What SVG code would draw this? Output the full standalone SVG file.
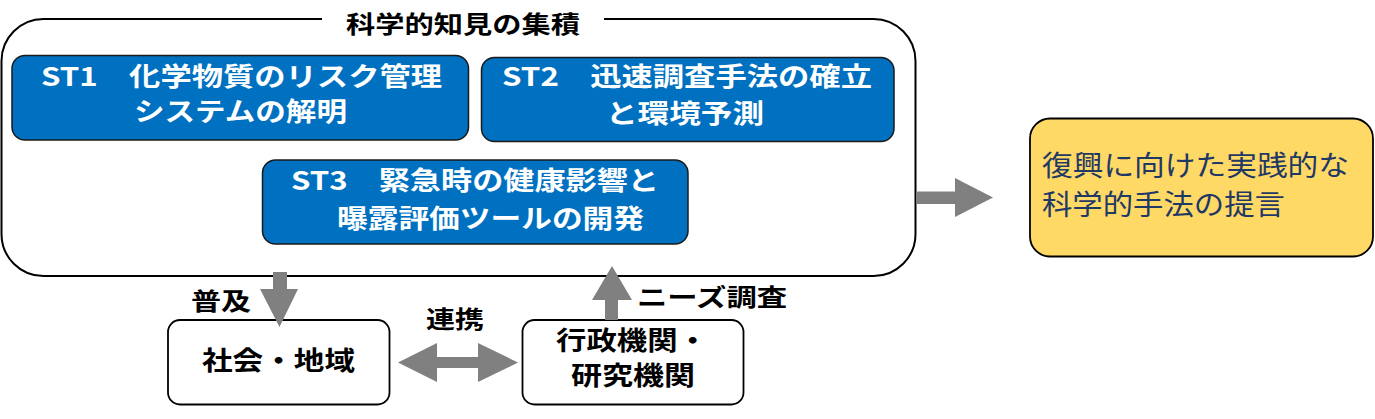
<svg xmlns="http://www.w3.org/2000/svg" width="1375" height="419" viewBox="0 0 1375 419">
  <style>
    text { font-family: "Noto Sans CJK JP", "Noto Sans", sans-serif; }
    .st { fill: #0070C0; stroke: #1a1a1a; stroke-width: 1.5; }
    .wt { fill: #ffffff; font-size: 26px; font-weight: 700; }
    .bk { fill: #000000; font-size: 24px; font-weight: 700; }
    .lg { font-size: 26px; }
    .node { fill: #ffffff; stroke: #000000; stroke-width: 1.8; }
    .arrow { fill: #808080; stroke: none; }
    .yl { fill: #1F3864; font-size: 28px; font-weight: 400; }
  </style>

  <g id="knowledge-group">
    <path d="M604,19 H873.5 A42,42 0 0 1 915.5,61 V234 A42,42 0 0 1 873.5,276 H43.5 A42,42 0 0 1 1.5,234 V61 A42,42 0 0 1 43.5,19 H322" fill="none" stroke="#000000" stroke-width="2"/>
    <text class="bk" x="346" y="33" textLength="234" lengthAdjust="spacingAndGlyphs">科学的知見の集積</text>
  </g>

  <g id="st1">
    <rect class="st" x="12" y="55.5" width="456.5" height="84.5" rx="13"/>
    <text class="wt" x="41" y="86" textLength="401" lengthAdjust="spacingAndGlyphs">ST1　化学物質のリスク管理</text>
    <text class="wt" x="134" y="121" textLength="213" lengthAdjust="spacingAndGlyphs">システムの解明</text>
  </g>

  <g id="st2">
    <rect class="st" x="481.5" y="57.5" width="412.5" height="84" rx="13"/>
    <text class="wt" x="502" y="86" textLength="370" lengthAdjust="spacingAndGlyphs">ST2　迅速調査手法の確立</text>
    <text class="wt" x="606" y="123" textLength="158" lengthAdjust="spacingAndGlyphs">と環境予測</text>
  </g>

  <g id="st3">
    <rect class="st" x="262.5" y="160" width="425.5" height="84" rx="13"/>
    <text class="wt" x="291" y="190" textLength="368" lengthAdjust="spacingAndGlyphs">ST3　緊急時の健康影響と</text>
    <text class="wt" x="337" y="228" textLength="307" lengthAdjust="spacingAndGlyphs">曝露評価ツールの開発</text>
  </g>

  <g id="proposal">
    <rect x="1030" y="118.5" width="343" height="138" rx="20" fill="#FFD966" stroke="#000000" stroke-width="1.8"/>
    <text class="yl" x="1042" y="176" textLength="307" lengthAdjust="spacingAndGlyphs">復興に向けた実践的な</text>
    <text class="yl" x="1042" y="215" textLength="243" lengthAdjust="spacingAndGlyphs">科学的手法の提言</text>
  </g>

  <g id="society">
    <rect class="node" x="168" y="320" width="221.5" height="84.5" rx="12"/>
    <text class="bk lg" x="202" y="370" textLength="153" lengthAdjust="spacingAndGlyphs">社会・地域</text>
  </g>

  <g id="government">
    <rect class="node" x="522.5" y="320" width="221" height="84.5" rx="12"/>
    <text class="bk lg" x="556" y="350" textLength="152" lengthAdjust="spacingAndGlyphs">行政機関・</text>
    <text class="bk lg" x="571" y="385" textLength="124" lengthAdjust="spacingAndGlyphs">研究機関</text>
  </g>

  <g id="connectors">
    <polygon class="arrow" points="917,191.5 955,191.5 955,178 993,197.5 955,217 955,204 917,204"/>
    <polygon class="arrow" points="273,272 287,272 287,289 298,289 279.5,327 260,289 273,289"/>
    <polygon class="arrow" points="605,320 605,300 592,300 612,266 632,300 618,300 618,320"/>
    <polygon class="arrow" points="398,362.5 437,343 437,357 478,357 478,343 518,362.5 478,382 478,368 437,368 437,382"/>
    <text class="bk" x="191" y="310" textLength="60" lengthAdjust="spacingAndGlyphs">普及</text>
    <text class="bk" x="426" y="328" textLength="58" lengthAdjust="spacingAndGlyphs">連携</text>
    <text class="bk" x="637" y="306" textLength="150" lengthAdjust="spacingAndGlyphs">ニーズ調査</text>
  </g>
</svg>
